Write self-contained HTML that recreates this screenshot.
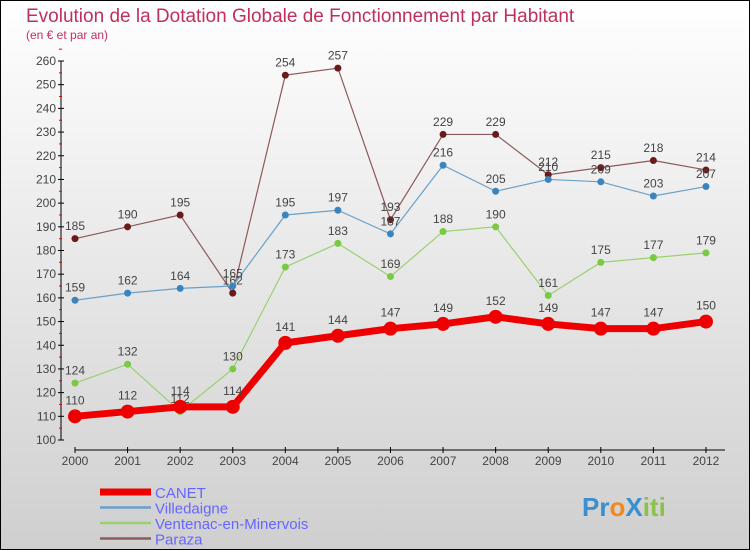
<!DOCTYPE html>
<html><head><meta charset="utf-8"><style>
body{margin:0;}
svg{display:block;font-family:"Liberation Sans",sans-serif;}
</style></head><body>
<svg id="c" width="750" height="550">
<defs><linearGradient id="bg" x1="0" y1="0" x2="0" y2="1"><stop offset="0" stop-color="#ffffff"/><stop offset="1" stop-color="#cfcfcf"/></linearGradient></defs>
<rect x="0.5" y="0.5" width="749" height="549" fill="url(#bg)" stroke="#000"/>
<text x="26" y="22" font-size="19" fill="#c0305a">Evolution de la Dotation Globale de Fonctionnement par Habitant</text>
<text x="26" y="39" font-size="12" fill="#c0305a">(en € et par an)</text>
<g id="axes"></g><g id="series"></g><g id="legend"></g>
<text x="582" y="516" font-size="26" font-weight="bold"><tspan fill="#3a8fd0">Pr</tspan><tspan fill="#f08a20">o</tspan><tspan fill="#3a8fd0">X</tspan><tspan fill="#8bc34a">iti</tspan></text>
</svg>
<script>
const years=[2000,2001,2002,2003,2004,2005,2006,2007,2008,2009,2010,2011,2012];
const yTicks=[100,110,120,130,140,150,160,170,180,190,200,210,220,230,240,250,260];
const canet=[110,112,114,114,141,144,147,149,152,149,147,147,150];
const villedaigne=[159,162,164,165,195,197,187,216,205,210,209,203,207];
const ventenac=[124,132,112,130,173,183,169,188,190,161,175,177,179];
const paraza=[185,190,195,162,254,257,193,229,229,212,215,218,214];
const NS="http://www.w3.org/2000/svg";
const xs=i=>75+i*52.58;
const ys=v=>440-(v-100)*379/160;
function mk(p,t,a){const e=document.createElementNS(NS,t);for(const k in a)e.setAttribute(k,a[k]);p.appendChild(e);return e;}
const ax=document.getElementById('axes');
const yl=mk(ax,'line',{x1:61,y1:61,x2:61,y2:440,stroke:'#000'});


yTicks.forEach(v=>{
 mk(ax,'line',{x1:58,y1:ys(v),x2:64,y2:ys(v),stroke:'#000'});
 mk(ax,'line',{x1:59,y1:ys(v+5),x2:62,y2:ys(v+5),stroke:'#e00'});
 const t=mk(ax,'text',{x:56,y:ys(v)+4,'text-anchor':'end','font-size':12,fill:'#444'});t.textContent=v;
 
 
});
const xl=mk(ax,'line',{x1:75,y1:450,x2:725,y2:450,stroke:'#000'});


years.forEach((y,i)=>{
 mk(ax,'line',{x1:xs(i),y1:447,x2:xs(i),y2:453,stroke:'#000'});
 const t=mk(ax,'text',{x:xs(i),y:465,'text-anchor':'middle','font-size':12,fill:'#444'});t.textContent=y;
 
 
});
const S=document.getElementById('series');
const defs=[
 {n:'paraza',d:paraza,c:'#8b5a5a',p:'#6b1a1a',w:1.2,r:3.5},
 {n:'ventenac',d:ventenac,c:'#99d070',p:'#7ac943',w:1.2,r:3.5},
 {n:'villedaigne',d:villedaigne,c:'#6aa0c8',p:'#3a85c0',w:1.2,r:3.5},
 {n:'canet',d:canet,c:'#ee0000',p:'#ee0000',w:7,r:7}];
defs.forEach(s=>{
 const g=mk(S,'g',{});
 
 
 const pl=mk(g,'polyline',{points:s.d.map((v,i)=>xs(i)+','+ys(v)).join(' '),fill:'none',stroke:s.c,'stroke-width':s.w});
 
 
 s.d.forEach((v,i)=>{
  const c=mk(g,'circle',{cx:xs(i),cy:ys(v),r:s.r,fill:s.p});
  
  
  const t=mk(g,'text',{x:xs(i),y:ys(v)-(s.r+5),'text-anchor':'middle','font-size':12,fill:'#444'});t.textContent=v;
  
  
 });
});
const L=document.getElementById('legend');
[['CANET','#ee0000',7],['Villedaigne','#6aa0c8',2.5],['Ventenac-en-Minervois','#99d070',2.5],['Paraza','#8b5a5a',2.5]].forEach((e,i)=>{
 const y=492+i*15.5;
 const g=mk(L,'g',{});
 
 
 mk(g,'line',{x1:100,y1:y,x2:151,y2:y,stroke:e[1],'stroke-width':e[2]});
 const t=mk(g,'text',{x:155,y:y+6,'font-size':15,fill:'#6666ff'});t.textContent=e[0];
});
</script>
</body></html>
